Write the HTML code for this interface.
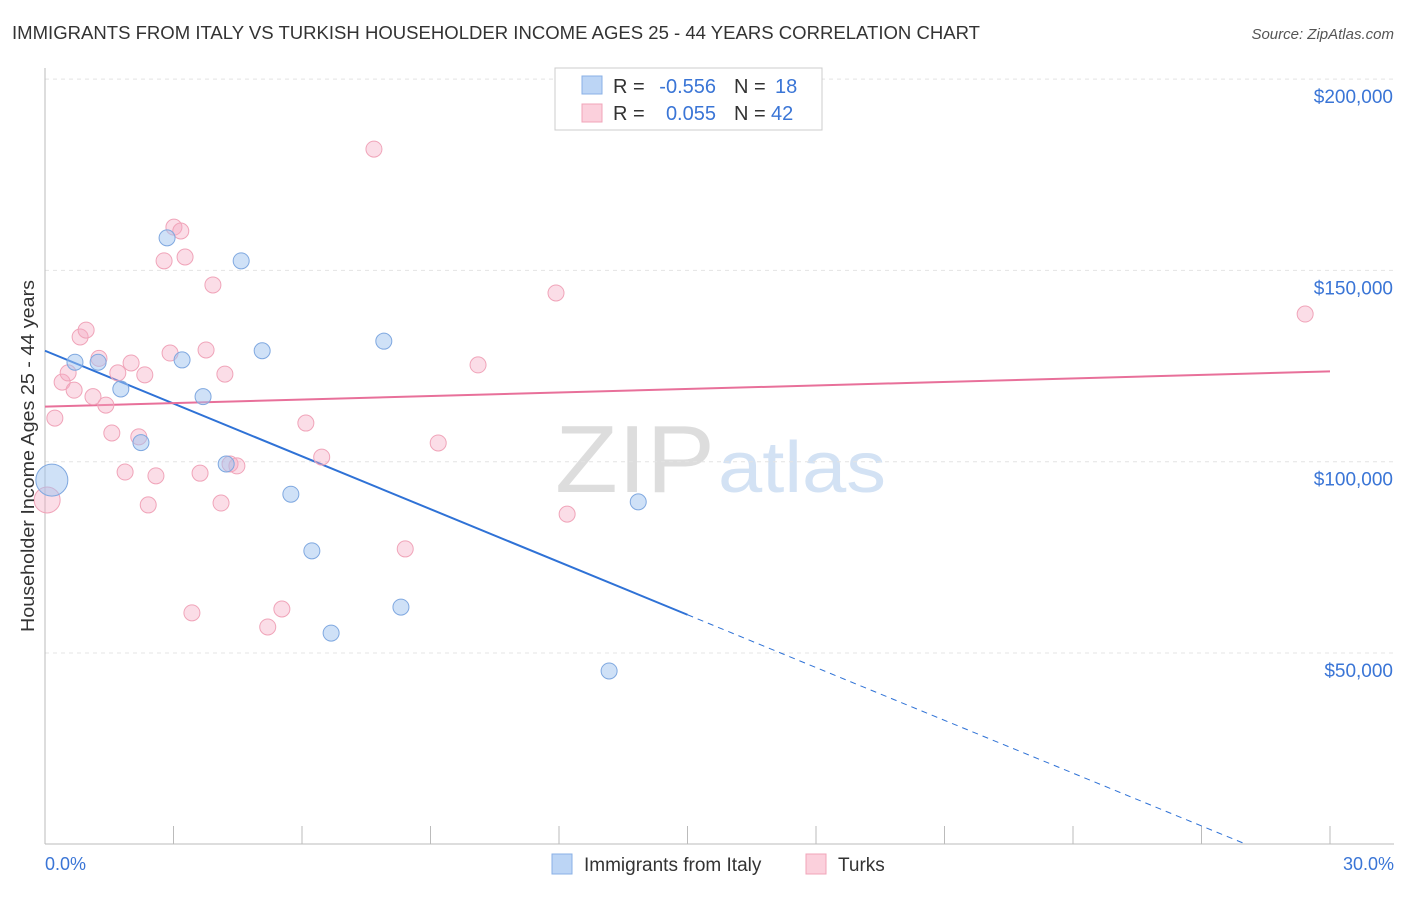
<!DOCTYPE html>
<html><head><meta charset="utf-8"><style>
body{margin:0;background:#fff;font-family:"Liberation Sans",sans-serif}
svg text{font-family:"Liberation Sans",sans-serif}
</style></head><body>
<svg id="chart" width="1406" height="892">
<text x="12" y="39" font-size="18" fill="#333" textLength="968" lengthAdjust="spacingAndGlyphs">IMMIGRANTS FROM ITALY VS TURKISH HOUSEHOLDER INCOME AGES 25 - 44 YEARS CORRELATION CHART</text>
<text x="1394" y="39" font-size="15" fill="#555" text-anchor="end" font-style="italic">Source: ZipAtlas.com</text>
<text x="555" y="492" font-size="96" fill="#ddd" font-family="Liberation Serif" textLength="160" lengthAdjust="spacingAndGlyphs">ZIP</text>
<text x="718" y="492" font-size="72" fill="#d3e2f4" textLength="168" lengthAdjust="spacingAndGlyphs">atlas</text>
<g id="grid"></g><g id="axes"></g><g id="trend"></g><g id="pts"></g>
<text transform="translate(34,456) rotate(-90)" font-size="18" fill="#333" text-anchor="middle" textLength="352" lengthAdjust="spacingAndGlyphs">Householder Income Ages 25 - 44 years</text>
<text x="45" y="870" font-size="18" fill="#3a75d6">0.0%</text>
<text x="1394" y="870" font-size="18" fill="#3a75d6" text-anchor="end">30.0%</text>
<g font-size="20">
<rect x="555" y="68" width="267" height="62" fill="#fff" stroke="#ccc"/>
<rect x="582" y="76" width="20" height="18" fill="#bcd5f5" stroke="#8ab0e6"/>
<rect x="582" y="104" width="20" height="18" fill="#fbd0dc" stroke="#f0a4b9"/>
<text x="613" y="93" fill="#333">R =</text>
<text x="716" y="93" fill="#3a75d6" text-anchor="end">-0.556</text>
<text x="734" y="93" fill="#333">N =</text>
<text x="775" y="93" fill="#3a75d6">18</text>
<text x="613" y="120" fill="#333">R =</text>
<text x="716" y="120" fill="#3a75d6" text-anchor="end">0.055</text>
<text x="734" y="120" fill="#333">N =</text>
<text x="771" y="120" fill="#3a75d6">42</text>
</g>
<g>
<rect x="552" y="854" width="20" height="20" fill="#bcd5f5" stroke="#8ab0e6"/>
<text x="584" y="871" font-size="19" fill="#333">Immigrants from Italy</text>
<rect x="806" y="854" width="20" height="20" fill="#fbd0dc" stroke="#f0a4b9"/>
<text x="838" y="871" font-size="19" fill="#333">Turks</text>
</g>
</svg>
<script>
const yTicks=[50000,100000,150000,200000];
const yTickLabels=["$50,000","$100,000","$150,000","$200,000"];
const xTicks=[0,3,6,9,12,15,18,21,24,27,30];
const italyX=[0.16,0.7,1.24,1.77,2.24,2.85,3.2,3.69,4.23,4.58,5.07,5.74,6.23,6.68,7.91,8.31,13.17,13.85];
const italyY=[95200,126000,126000,119000,105000,158500,126600,117000,99400,152500,129000,91500,76700,55200,131500,62000,45300,89500];
const turksX=[0.05,0.23,0.4,0.54,0.68,0.82,0.96,1.12,1.26,1.42,1.56,1.7,1.87,2.01,2.19,2.33,2.41,2.59,2.78,2.92,3.01,3.17,3.27,3.43,3.62,3.76,3.92,4.11,4.2,4.32,4.48,5.2,5.53,6.09,6.46,7.68,8.41,9.18,10.11,11.93,12.19,29.42];
const turksY=[90000,111400,120800,123200,118700,132600,134400,117000,127000,114800,107500,123200,97300,125800,106500,122700,88700,96300,152500,128400,161300,160300,153500,60500,97000,129200,146200,89200,122900,99400,98900,56800,61500,110100,101200,181700,77200,104900,125300,144100,86300,138600];
const italyTrend=[129000,-4600];
const turksTrend=[114400,307];
const NS="http://www.w3.org/2000/svg";
const X=p=>45+p*(1330-45)/30, Y=v=>653-(v-50000)*191.3/50000;
function mk(t,a,parent){const e=document.createElementNS(NS,t);for(const k in a)e.setAttribute(k,a[k]);document.getElementById(parent).appendChild(e);return e;}
yTicks.forEach((v,i)=>{
 const g=mk('line',{x1:45,x2:1394,y1:Y(v),y2:Y(v),stroke:'#e4e4e4','stroke-dasharray':'4,4'},'grid');
 
 
 const t=mk('text',{x:1393,y:Y(v)+24,'font-size':19,fill:'#3a75d6','text-anchor':'end'},'grid');
 t.textContent=yTickLabels[i];
 
 
});
const ax=mk('line',{x1:45,x2:45,y1:68,y2:844,stroke:'#bbb'},'axes');


const bx=mk('line',{x1:45,x2:1394,y1:844,y2:844,stroke:'#bbb'},'axes');


xTicks.forEach(p=>{if(p===0)return;
 const t=mk('line',{x1:X(p),x2:X(p),y1:826,y2:844,stroke:'#bbb'},'axes');
 
 
});
const tv=(tr,p)=>tr[0]+tr[1]*p;
let l=mk('line',{x1:X(0),y1:Y(tv(italyTrend,0)),x2:X(15),y2:Y(tv(italyTrend,15)),stroke:'#2f72d6','stroke-width':2},'trend');


const pEnd=(0-italyTrend[0])/italyTrend[1];
l=mk('line',{x1:X(15),y1:Y(tv(italyTrend,15)),x2:X(pEnd),y2:Y(0),stroke:'#2f72d6','stroke-width':1,'stroke-dasharray':'6,5'},'trend');


l=mk('line',{x1:X(0),y1:Y(tv(turksTrend,0)),x2:X(30),y2:Y(tv(turksTrend,30)),stroke:'#e8709a','stroke-width':2},'trend');


turksX.forEach((p,i)=>{
 const c=mk('circle',{cx:X(p),cy:Y(turksY[i]),r:i===0?13:8,fill:'rgba(246,170,195,0.4)',stroke:'#f0a4b9','stroke-width':1},'pts');
 
 
});
italyX.forEach((p,i)=>{
 const c=mk('circle',{cx:X(p),cy:Y(italyY[i]),r:i===0?16:8,fill:'rgba(160,195,240,0.5)',stroke:'#7fa8e0','stroke-width':1},'pts');
 
 
});
</script>
</body></html>
